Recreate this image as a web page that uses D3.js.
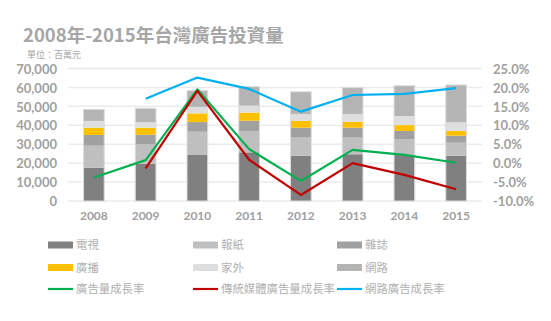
<!DOCTYPE html>
<html><head><meta charset="utf-8">
<script src="https://cdn.jsdelivr.net/npm/d3@7"></script>
<style>
body{margin:0;background:#fff;}
svg{display:block;}
</style></head>
<body>
<script>
const years = ["2008","2009","2010","2011","2012","2013","2014","2015"];
const tv        = [17600,19700,24300,25700,23900,24700,24300,23900];
const newspaper = [11600,10400,12300,11300, 9600, 8800, 8300, 6900];
const magazine  = [ 5700, 4900, 5100, 5400, 5200, 5200, 4400, 3700];
const radio     = [ 3800, 3700, 4600, 4300, 3600, 3200, 3100, 2500];
const outdoor   = [ 3600, 2900, 3400, 3700, 3700, 4100, 4800, 4600];
const internet  = [ 6100, 7400, 8600,10000,11700,13900,16000,19700];
const totalGrowth       = [-3.8, 0.8, 19.5, 3.7, -4.7, 3.5, 2.2, 0.1];
const traditionalGrowth = [null, -1.4, 19.1, 0.9, -8.4, 0.0, -3.1, -6.9];
const internetGrowth    = [null, 17.0, 22.6, 19.6, 13.6, 18.0, 18.3, 19.8];
const leftTicks  = [0,10000,20000,30000,40000,50000,60000,70000];
const rightTicks = [-10,-5,0,5,10,15,20,25];

const barSeries = [
  {name:"電視", values:tv, color:"#808080"},
  {name:"報紙", values:newspaper, color:"#bfbfbf"},
  {name:"雜誌", values:magazine, color:"#a0a0a0"},
  {name:"廣播", values:radio, color:"#ffc000"},
  {name:"家外", values:outdoor, color:"#dedede"},
  {name:"網路", values:internet, color:"#b4b4b4"}
];
const lineSeries = [
  {name:"廣告量成長率", values:totalGrowth, color:"#00b050"},
  {name:"傳統媒體廣告量成長率", values:traditionalGrowth, color:"#c00000"},
  {name:"網路廣告成長率", values:internetGrowth, color:"#00b0f0"}
];

const W=551,H=321;
const svg=d3.select("body").append("svg").attr("width",W).attr("height",H);
const numFont="Lato, 'Open Sans', sans-serif";
const cjkFont="'Noto Sans CJK TC','Noto Sans CJK SC',sans-serif";
const textColor="#a6a6a6";

const x=d3.scaleBand().domain(years).range([68,482]).paddingInner(0.6).paddingOuter(0.3);
const y=d3.scaleLinear().domain([0,70000]).range([201,68.5]);
const y2=d3.scaleLinear().domain([-10,25]).range([201,68.5]);

// title
svg.append("text").attr("x",23).attr("y",42).text("2008年-2015年台灣廣告投資量")
  .attr("font-family",cjkFont).attr("font-weight","bold").attr("font-size",18.5).attr("fill",textColor);
svg.append("text").attr("x",27).attr("y",57.5).text("單位：百萬元")
  .attr("font-family",cjkFont).attr("font-size",9).attr("fill",textColor);

// gridlines
svg.append("g").selectAll("line").data(leftTicks).join("line")
  .attr("x1",68).attr("x2",482).attr("y1",d=>y(d)).attr("y2",d=>y(d))
  .attr("stroke","#ebebeb").attr("stroke-width",1.5);

// left axis
const la=svg.append("g").attr("transform","translate(61,0)")
  .call(d3.axisLeft(y).tickValues(leftTicks).tickFormat(d3.format(",")).tickSize(0).tickPadding(4));
la.select(".domain").remove();
la.selectAll("text").attr("font-family",numFont).attr("font-weight","bold").attr("font-size",13).attr("fill","#a0a0a0").attr("dy","0.36em");

// right axis
const ra=svg.append("g").attr("transform","translate(489,0)")
  .call(d3.axisRight(y2).tickValues(rightTicks).tickFormat(d=>d.toFixed(1)+"%").tickSize(0).tickPadding(4));
ra.select(".domain").remove();
ra.selectAll("text").attr("font-family",numFont).attr("font-weight","bold").attr("font-size",13).attr("fill","#a0a0a0").attr("dy","0.36em");

// bottom axis
const ba=svg.append("g").attr("transform","translate(0,201)")
  .call(d3.axisBottom(x).tickSize(0).tickPadding(10));
ba.select(".domain").remove();
ba.selectAll("text").attr("font-family",numFont).attr("font-weight","bold").attr("font-size",12).attr("fill","#a0a0a0");

// stacked bars
const table=years.map((yr,i)=>{const o={year:yr};barSeries.forEach(s=>o[s.name]=s.values[i]);return o;});
const stack=d3.stack().keys(barSeries.map(s=>s.name))(table);
const bw=x.bandwidth();
stack.forEach((layer,li)=>{
  svg.append("g").selectAll("rect").data(layer).join("rect")
    .attr("x",d=>x(d.data.year)).attr("width",bw)
    .attr("y",d=>y(d[1])).attr("height",d=>y(d[0])-y(d[1]))
    .attr("fill",barSeries[li].color);
});
const topLayer=stack[stack.length-1];
svg.append("g").selectAll("rect").data(topLayer).join("rect")
  .attr("x",d=>x(d.data.year)).attr("width",bw)
  .attr("y",d=>y(d[1])).attr("height",d=>y(0)-y(d[1]))
  .attr("fill","none").attr("stroke","#dcdcdc").attr("stroke-width",1);

// lines
lineSeries.forEach(s=>{
  const line=d3.line().defined(d=>d!=null).x((d,i)=>x(years[i])+bw/2).y(d=>y2(d));
  svg.append("path").datum(s.values).attr("d",line)
    .attr("fill","none").attr("stroke",s.color).attr("stroke-width",2.2).attr("stroke-linejoin","round");
});

// legend
const colX=[48,193,337], rowY=[245,267.5,289];
const legendItems=[...barSeries.map(s=>({...s,type:"bar"})),...lineSeries.map(s=>({...s,type:"line"}))];
legendItems.forEach((it,i)=>{
  const cx=colX[i%3], cy=rowY[Math.floor(i/3)];
  if(it.type==="bar"){
    svg.append("rect").attr("x",cx).attr("y",cy-3.5).attr("width",25).attr("height",7).attr("fill",it.color);
  } else {
    svg.append("line").attr("x1",cx).attr("x2",cx+25).attr("y1",cy).attr("y2",cy)
      .attr("stroke",it.color).attr("stroke-width",2.2);
  }
  svg.append("text").attr("x",cx+28).attr("y",cy).attr("dy","0.36em").text(it.name)
    .attr("font-family",cjkFont).attr("font-size",11.4).attr("fill","#b0b0b0");
});
</script>
</body></html>
